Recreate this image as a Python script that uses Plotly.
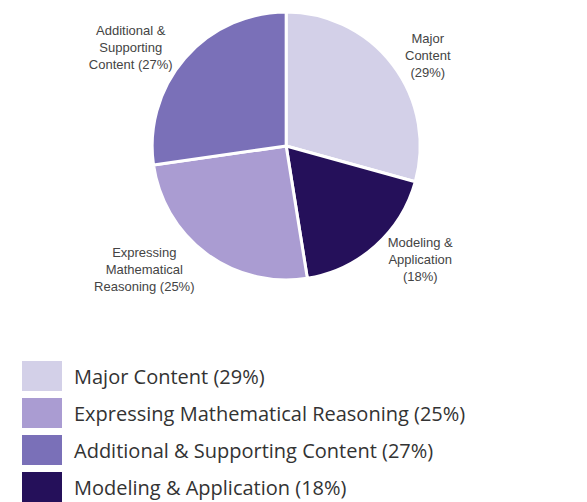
import plotly.graph_objects as go

# Slice data (clockwise from 12 o'clock)
categories = ["Major Content", "Modeling & Application",
              "Expressing Mathematical Reasoning", "Additional & Supporting Content"]
values = [29, 18, 25, 27]
slice_labels = ["Major<br>Content<br>(29%)",
                "Modeling &<br>Application<br>(18%)",
                "Expressing<br>Mathematical<br>Reasoning (25%)",
                "Additional &<br>Supporting<br>Content (27%)"]
colors = ["#d3d0e8", "#25105a", "#aa9cd2", "#7a70b8"]

# Legend order as shown below the pie
legend_order = ["Major Content", "Expressing Mathematical Reasoning",
                "Additional & Supporting Content", "Modeling & Application"]

W, H = 587, 502

fig = go.Figure()
fig.add_trace(go.Pie(
    labels=categories,
    values=values,
    text=slice_labels,
    texttemplate="%{text}",
    textposition="outside",
    textfont=dict(family="Liberation Sans", size=13, color="#444444"),
    marker=dict(colors=colors, line=dict(color="white", width=3)),
    sort=False,
    direction="clockwise",
    rotation=0,
    showlegend=False,
    automargin=False,
    hoverinfo="label+percent",
    domain=dict(x=[0.05, 0.925], y=[1 - 280 / H, 1 - 12 / H]),
))

shapes = []
annotations = []
row_h = 37
top = 361
for i, name in enumerate(legend_order):
    idx = categories.index(name)
    y0 = top + i * row_h
    y1 = y0 + 30
    shapes.append(dict(type="rect", xref="paper", yref="paper",
                       x0=22 / W, x1=62 / W,
                       y0=1 - y1 / H, y1=1 - y0 / H,
                       fillcolor=colors[idx], line=dict(width=0)))
    annotations.append(dict(xref="paper", yref="paper",
                            x=72 / W, y=1 - (y0 + 15) / H,
                            xanchor="left", yanchor="middle",
                            text=f"{name} ({values[idx]}%)", showarrow=False,
                            font=dict(family="Open Sans", size=20, color="#333333")))

fig.update_layout(
    width=W, height=H,
    margin=dict(l=0, r=0, t=0, b=0, autoexpand=False),
    paper_bgcolor="white",
    plot_bgcolor="white",
    shapes=shapes,
    annotations=annotations,
)

fig.write_html("out.html",
               config={"displayModeBar": False},
               post_script="document.body.style.margin='0px';document.body.style.overflow='hidden';")
